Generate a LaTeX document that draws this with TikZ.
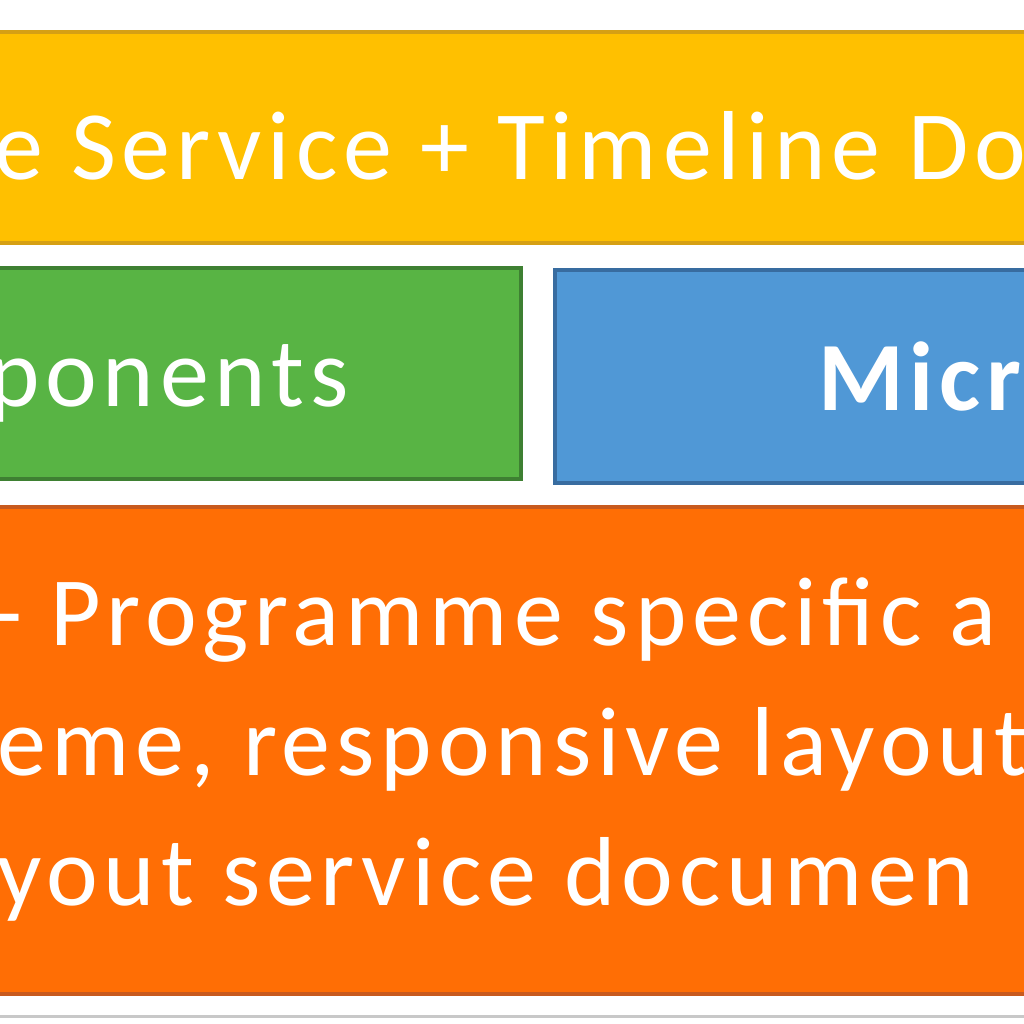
\documentclass[tikz,border=0pt]{standalone}
\usepackage{fontspec}
\setmainfont{Carlito}[LetterSpace=6]
\begin{document}
\begin{tikzpicture}[x=1pt,y=-1pt,
  bx/.style={line width=4pt},
  tx/.style={anchor=base west,inner sep=0pt,text=white,font=\fontsize{98}{110}\selectfont}]
\useasboundingbox (0,0) rectangle (1024,1024);
\clip (0,0) rectangle (1024,1024);
\fill[white] (0,0) rectangle (1024,1024);
\draw[bx,fill={rgb,255:red,255;green,192;blue,0},draw={rgb,255:red,214;green,160;blue,20}] (-20,32) rectangle (1050,243);
\draw[bx,fill={rgb,255:red,88;green,180;blue,68},draw={rgb,255:red,62;green,128;blue,50}] (-20,268) rectangle (521,479);
\draw[bx,fill={rgb,255:red,80;green,152;blue,214},draw={rgb,255:red,56;green,108;blue,160}] (555,270) rectangle (1050,483);
\draw[bx,fill={rgb,255:red,255;green,110;blue,5},draw={rgb,255:red,200;green,90;blue,30}] (-20,507) rectangle (1050,994);
\draw[line width=3pt,draw={rgb,255:red,200;green,200;blue,200}] (-20,1016) -- (1050,1016);
\node[tx] (t1) at (-6,180) {e Service + Timeline Do};
\node[tx] (t2) at (-12,406) {ponents};
\node[tx,font=\bfseries\fontsize{98}{110}\selectfont] (t3) at (818,410) {Micr};
\node[tx] (t4) at (-8,645) {- Programme specific a};
\node[tx] (t5) at (-3,775) {eme, responsive layout};
\node[tx] (t6) at (-3,905) {yout service documen};
\end{tikzpicture}
\end{document}
